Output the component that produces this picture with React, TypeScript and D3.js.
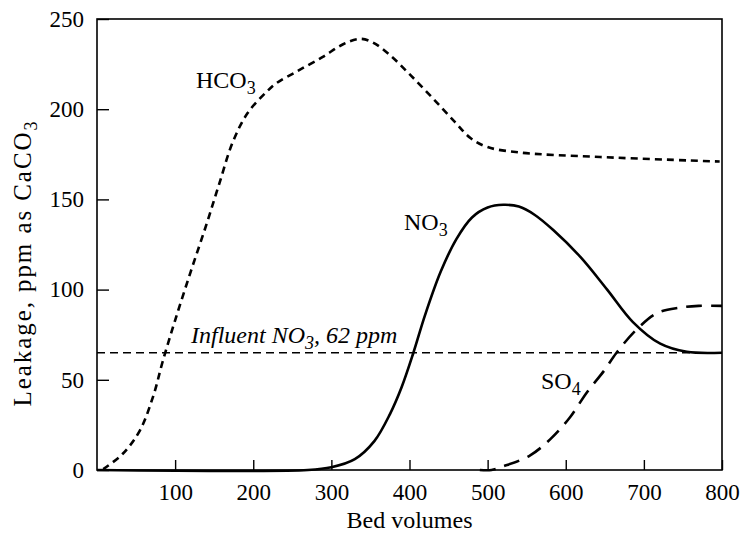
import React, { useRef, useEffect } from "react";
import * as d3 from "d3";

// values (bed volumes, ppm as CaCO3)
const hco3X = [8, 33, 55, 72, 84, 100, 120, 140, 156, 174, 193, 218, 230, 256, 289, 315, 337, 353, 375, 401, 430, 458, 478, 500, 541, 644, 797];
const hco3Y = [0.5, 9, 22, 41, 60, 83, 110, 136, 158, 182, 198, 210, 214.5, 221, 229, 236, 239, 237, 230, 219, 206, 193, 184, 179, 176, 173.5, 171];

const no3X = [0, 270, 300, 330, 355, 375, 390, 405, 420, 440, 460, 480, 500, 520, 540, 560, 584, 619, 653, 686, 721, 755, 800];
const no3Y = [0, 0, 1.5, 6, 16, 31, 46, 65, 86, 110, 128, 140, 145.5, 147, 146, 141.5, 133, 118, 100, 82, 70, 65.5, 65];

const so4X = [490, 505, 520, 554, 580, 605, 627, 649, 665, 691, 717, 746, 770, 800];
const so4Y = [0, 0, 2, 8, 17, 29, 43, 55, 65, 78, 87, 90, 91, 91];

const influent = 65;
const xTicks = [100, 200, 300, 400, 500, 600, 700, 800];
const yTicks = [0, 50, 100, 150, 200, 250];

const W = 740;
const H = 538;
const FONT = "'Liberation Serif', 'Times New Roman', serif";

export default function App() {
  const ref = useRef<SVGSVGElement | null>(null);

  useEffect(() => {
    const svg = d3.select(ref.current);
    svg.selectAll("*").remove();

    const left = 97, right = 722, top = 19, bottom = 470;
    const x = d3.scaleLinear().domain([0, 800]).range([left, right]);
    const y = d3.scaleLinear().domain([0, 250]).range([bottom, top]);

    const line = d3
      .line<[number, number]>()
      .x((d) => x(d[0]))
      .y((d) => y(d[1]))
      .curve(d3.curveCatmullRom.alpha(0.5));

    const zip = (xs: number[], ys: number[]) => xs.map((v, i) => [v, ys[i]] as [number, number]);

    // frame
    svg.append("rect")
      .attr("x", left).attr("y", top)
      .attr("width", right - left).attr("height", bottom - top)
      .attr("fill", "none").attr("stroke", "#000").attr("stroke-width", 1.6);

    // ticks point inward
    svg.append("g")
      .attr("transform", `translate(0,${bottom})`)
      .call(d3.axisBottom(x).tickValues(xTicks).tickSizeInner(-10).tickSizeOuter(0).tickPadding(14))
      .call((g) => g.select(".domain").remove())
      .call((g) => g.selectAll("line").attr("stroke-width", 1.4))
      .call((g) => g.selectAll("text").attr("font-family", FONT).attr("font-size", 23).attr("fill", "#000"));

    svg.append("g")
      .attr("transform", `translate(${left},0)`)
      .call(d3.axisLeft(y).tickValues(yTicks).tickSizeInner(-12).tickSizeOuter(0).tickPadding(13))
      .call((g) => g.select(".domain").remove())
      .call((g) => g.selectAll("line").attr("stroke-width", 1.4))
      .call((g) => g.selectAll("text").attr("font-family", FONT).attr("font-size", 23).attr("fill", "#000"));

    // influent reference line
    svg.append("line")
      .attr("x1", x(0)).attr("x2", x(800))
      .attr("y1", y(influent)).attr("y2", y(influent))
      .attr("stroke", "#000").attr("stroke-width", 1.3)
      .attr("stroke-dasharray", "8,5");

    svg.append("path").datum(zip(hco3X, hco3Y))
      .attr("d", line).attr("fill", "none").attr("stroke", "#000")
      .attr("stroke-width", 2.6).attr("stroke-dasharray", "7,5");

    svg.append("path").datum(zip(no3X, no3Y))
      .attr("d", line).attr("fill", "none").attr("stroke", "#000")
      .attr("stroke-width", 2.6);

    svg.append("path").datum(zip(so4X, so4Y))
      .attr("d", line).attr("fill", "none").attr("stroke", "#000")
      .attr("stroke-width", 2.6).attr("stroke-dasharray", "16,9");

    const label = (tx: number, ty: number, main: string, sub: string, italic = false, tail = "") => {
      const t = svg.append("text")
        .attr("x", tx).attr("y", ty)
        .attr("font-family", FONT).attr("font-size", 24)
        .attr("font-style", italic ? "italic" : "normal");
      t.append("tspan").text(main);
      t.append("tspan").attr("dy", 6).attr("font-size", 18).text(sub);
      if (tail) t.append("tspan").attr("dy", -6).text(tail);
    };

    label(196, 88, "HCO", "3");
    label(404, 230, "NO", "3");
    label(541, 389, "SO", "4");
    label(191, 343, "Influent NO", "3", true, ", 62 ppm");

    svg.append("text")
      .attr("x", (left + right) / 2).attr("y", 528)
      .attr("text-anchor", "middle")
      .attr("font-family", FONT).attr("font-size", 24)
      .text("Bed volumes");

    const yt = svg.append("text")
      .attr("transform", `translate(31,264) rotate(-90)`)
      .attr("text-anchor", "middle")
      .attr("font-family", FONT).attr("font-size", 25)
      .attr("textLength", 285).attr("lengthAdjust", "spacing");
    yt.append("tspan").text("Leakage, ppm as CaCO");
    yt.append("tspan").attr("dy", 6).attr("font-size", 18).text("3");
  }, []);

  return (
    <div style={{ position: "absolute", left: 0, top: 0, background: "#fff" }}>
      <svg ref={ref} width={W} height={H} style={{ display: "block" }} />
    </div>
  );
}
